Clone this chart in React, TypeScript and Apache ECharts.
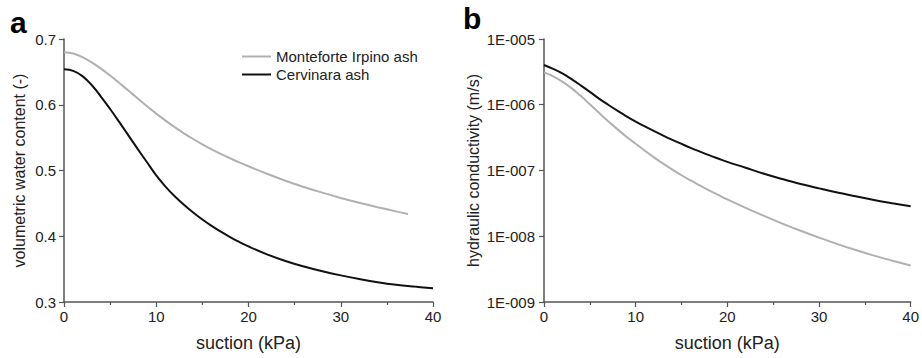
import React, { useEffect, useRef } from "react";
import * as echarts from "echarts";

const FONT = "'Liberation Sans', Arial, Helvetica, sans-serif";

// Panel a: volumetric water content vs suction
const suctionA = [0, 1, 2, 3, 4, 5, 6, 7, 8, 9, 10, 11, 12, 13, 14, 15, 16, 17, 18, 19, 20, 22, 24, 26, 28, 30, 32, 34, 36, 37.3, 38, 40];
const monteforteTheta = [0.680, 0.678, 0.6725, 0.6645, 0.655, 0.6445, 0.633, 0.6213, 0.6095, 0.5978, 0.5865, 0.5758, 0.5659, 0.5566, 0.5479, 0.5398, 0.5322, 0.5252, 0.5186, 0.5124, 0.5065, 0.495, 0.4845, 0.475, 0.4663, 0.4583, 0.451, 0.4442, 0.4378, 0.434, null, null];
const cervinaraTheta = [0.654, 0.6515, 0.6435, 0.630, 0.6125, 0.5935, 0.5735, 0.553, 0.5325, 0.5125, 0.4925, 0.4755, 0.4608, 0.4478, 0.436, 0.4254, 0.4157, 0.4069, 0.3988, 0.3913, 0.3845, 0.3725, 0.3624, 0.3539, 0.3467, 0.3405, 0.335, 0.3301, 0.3262, null, 0.3234, 0.321];

// Panel b: hydraulic conductivity vs suction
const suctionB = [0, 1, 2, 3, 4, 5, 6, 7, 8, 9, 10, 11, 12, 13, 14, 15, 16, 17, 18, 19, 20, 22, 24, 26, 28, 30, 32, 34, 36, 38, 40];
const monteforteK = [3.11e-6, 2.71e-6, 2.25e-6, 1.79e-6, 1.365e-6, 1.016e-6, 7.53e-7, 5.62e-7, 4.26e-7, 3.27e-7, 2.55e-7, 2.0e-7, 1.585e-7, 1.27e-7, 1.033e-7, 8.47e-8, 7.05e-8, 5.92e-8, 4.99e-8, 4.25e-8, 3.63e-8, 2.7e-8, 2.04e-8, 1.56e-8, 1.21e-8, 9.53e-9, 7.6e-9, 6.17e-9, 5.08e-9, 4.25e-9, 3.59e-9];
const cervinaraK = [4.03e-6, 3.51e-6, 2.99e-6, 2.45e-6, 1.97e-6, 1.57e-6, 1.24e-6, 1.0e-6, 8.13e-7, 6.68e-7, 5.56e-7, 4.68e-7, 3.98e-7, 3.4e-7, 2.93e-7, 2.54e-7, 2.21e-7, 1.94e-7, 1.71e-7, 1.52e-7, 1.355e-7, 1.1e-7, 8.91e-8, 7.41e-8, 6.24e-8, 5.35e-8, 4.62e-8, 4.05e-8, 3.57e-8, 3.18e-8, 2.85e-8];

const seriesNames = ["Monteforte Irpino ash", "Cervinara ash"];
const panelLabels = ["a", "b"];

const pairs = (xs: number[], ys: (number | null)[]) =>
  xs.map((x, i) => [x, ys[i]]).filter((p) => p[1] !== null);

const expLabel = (v: number) => {
  const e = Math.round(Math.log10(v));
  return "1E-" + String(-e).padStart(3, "0");
};

export default function App() {
  const ref = useRef<HTMLDivElement>(null);
  useEffect(() => {
    if (!ref.current) return;
    const chart = echarts.init(ref.current, undefined, { renderer: "svg" });
    const axisColor = "#555";
    const textColor = "#222";
    const xAxisCommon = {
      type: "value",
      min: 0,
      max: 40,
      interval: 10,
      name: "suction (kPa)",
      nameLocation: "middle",
      nameGap: 32,
      nameTextStyle: { fontFamily: FONT, fontSize: 18, color: textColor },
      axisLine: { show: true, onZero: false, lineStyle: { color: axisColor, width: 1.5 } },
      axisTick: { show: true, length: 5, lineStyle: { color: axisColor, width: 1.2 } },
      minorTick: { show: true, splitNumber: 2, length: 3, lineStyle: { color: axisColor, width: 1.2 } },
      axisLabel: { fontFamily: FONT, fontSize: 15, color: textColor, margin: 7 },
      splitLine: { show: false },
    };
    chart.setOption({
      animation: false,
      grid: [
        { left: 64, right: 489, top: 39, bottom: 56 },
        { left: 544, right: 9, top: 39, bottom: 56 },
      ],
      xAxis: [
        { ...xAxisCommon, gridIndex: 0 },
        { ...xAxisCommon, gridIndex: 1 },
      ],
      yAxis: [
        {
          gridIndex: 0,
          type: "value",
          min: 0.3,
          max: 0.7,
          interval: 0.1,
          name: "volumetric water content (-)",
          nameLocation: "middle",
          nameGap: 37,
          nameTextStyle: { fontFamily: FONT, fontSize: 16, color: textColor },
          axisLine: { show: true, lineStyle: { color: axisColor, width: 1.5 } },
          axisTick: { show: true, length: 5, lineStyle: { color: axisColor, width: 1.2 } },
          axisLabel: { fontFamily: FONT, fontSize: 15, color: textColor, margin: 8, formatter: (v: number) => v.toFixed(1) },
          splitLine: { show: false },
        },
        {
          gridIndex: 1,
          type: "log",
          logBase: 10,
          min: 1e-9,
          max: 1e-5,
          name: "hydraulic conductivity (m/s)",
          nameLocation: "middle",
          nameGap: 63,
          nameTextStyle: { fontFamily: FONT, fontSize: 16, color: textColor },
          axisLine: { show: true, lineStyle: { color: axisColor, width: 1.5 } },
          axisTick: { show: true, length: 5, lineStyle: { color: axisColor, width: 1.2 } },
          axisLabel: { fontFamily: FONT, fontSize: 15, color: textColor, margin: 9, formatter: expLabel },
          splitLine: { show: false },
        },
      ],
      legend: {
        data: seriesNames,
        orient: "vertical",
        left: 237,
        top: 44,
        itemWidth: 29,
        itemHeight: 2,
        itemGap: 3,
        icon: "rect",
        textStyle: { fontFamily: FONT, fontSize: 15, color: textColor },
      },
      graphic: [
        { type: "text", left: 10, top: 7, style: { text: panelLabels[0], font: `bold 30px ${FONT}`, fill: "#000" } },
        { type: "text", left: 463, top: 3, style: { text: panelLabels[1], font: `bold 30px ${FONT}`, fill: "#000" } },
      ],
      series: [
        {
          name: seriesNames[0], type: "line", xAxisIndex: 0, yAxisIndex: 0, showSymbol: false, smooth: 0.4,
          data: pairs(suctionA, monteforteTheta), lineStyle: { color: "#b0b0b0", width: 2 }, itemStyle: { color: "#b0b0b0" },
        },
        {
          name: seriesNames[1], type: "line", xAxisIndex: 0, yAxisIndex: 0, showSymbol: false, smooth: 0.4,
          data: pairs(suctionA, cervinaraTheta), lineStyle: { color: "#111", width: 2 }, itemStyle: { color: "#111" },
        },
        {
          name: seriesNames[0], type: "line", xAxisIndex: 1, yAxisIndex: 1, showSymbol: false, smooth: 0.4,
          data: pairs(suctionB, monteforteK), lineStyle: { color: "#b0b0b0", width: 2 }, itemStyle: { color: "#b0b0b0" },
        },
        {
          name: seriesNames[1], type: "line", xAxisIndex: 1, yAxisIndex: 1, showSymbol: false, smooth: 0.4,
          data: pairs(suctionB, cervinaraK), lineStyle: { color: "#111", width: 2 }, itemStyle: { color: "#111" },
        },
      ],
    });
    return () => chart.dispose();
  }, []);
  return (
    <div
      ref={ref}
      style={{ position: "fixed", left: 0, top: 0, width: 922, height: 358, background: "#fff" }}
    />
  );
}
